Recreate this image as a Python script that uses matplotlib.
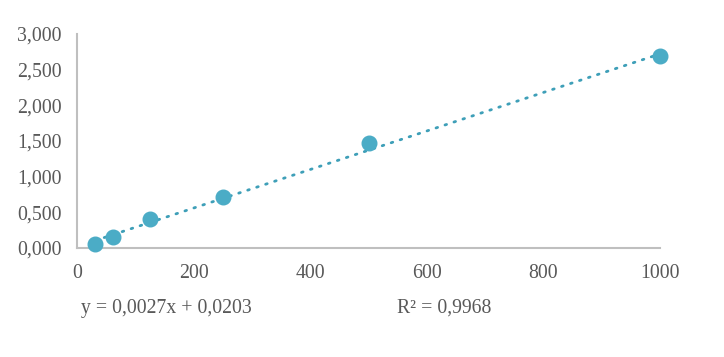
import matplotlib.pyplot as plt
from matplotlib.ticker import FuncFormatter
import numpy as np

# data
conc = [31.25, 62.5, 125, 250, 500, 1000]
absorb = [0.05, 0.155, 0.405, 0.715, 1.47, 2.685]
slope = 0.0027
intercept = 0.0203
r2 = 0.9968

plt.rcParams['font.family'] = ['Liberation Serif', 'DejaVu Serif']
color = '#4BACC6'
grey = '#595959'

fig = plt.figure(figsize=(7.24, 3.57), dpi=100)
ax = fig.add_axes([0.1064, 0.3053, 0.8052, 0.5995])

xs = np.array([conc[0], conc[-1]])
ax.plot(xs, slope * xs + intercept, color='#3E9FB8', lw=2, linestyle=(0, (0.6, 2.8)),
        dash_capstyle='round', zorder=2)
ax.plot(conc, absorb, 'o', color=color, markersize=10.5, zorder=3, clip_on=False)

ax.set_xlim(0, 1000)
ax.set_ylim(0, 3)
ax.set_xticks(range(0, 1001, 200))
ax.set_yticks(np.arange(0, 3.01, 0.5))
ax.yaxis.set_major_formatter(FuncFormatter(lambda v, p: f'{v:.3f}'.replace('.', ',')))
ax.tick_params(length=0, labelsize=14.3, colors=grey)
ax.tick_params(axis='x', pad=11.5)
ax.tick_params(axis='y', pad=11)
for s in ['top', 'right']:
    ax.spines[s].set_visible(False)
for s in ['left', 'bottom']:
    ax.spines[s].set_color('#bfbfbf')
    ax.spines[s].set_linewidth(1.5)

fig.text(81 / 724, 1 - 308 / 357, 'y = 0,0027x + 0,0203', fontsize=14.2, color=grey, va='center')
fig.text(397 / 724, 1 - 308 / 357, 'R² = ' + f'{r2:.4f}'.replace('.', ','), fontsize=14.2,
         color=grey, va='center')

fig.savefig('out.png', dpi=100)
